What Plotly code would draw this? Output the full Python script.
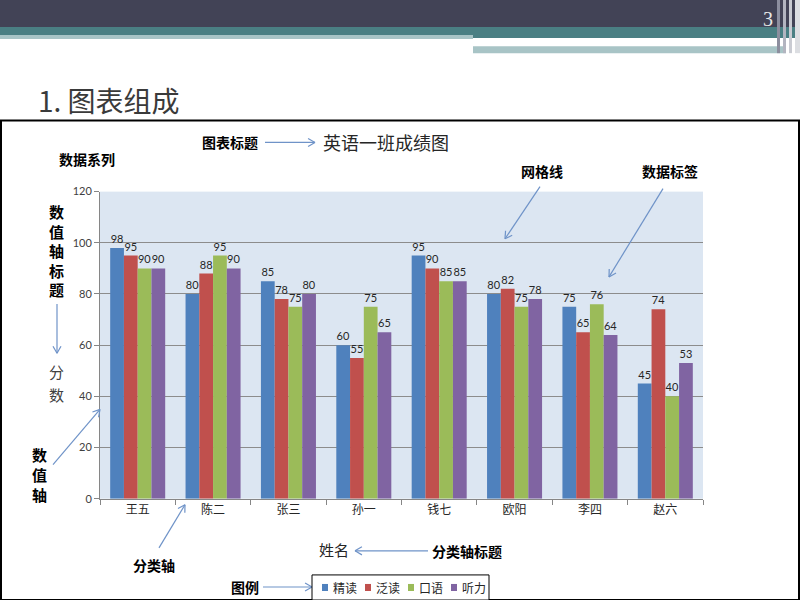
import plotly.graph_objects as go
import math

# ---------------- data ----------------
names = ["王五", "陈二", "张三", "孙一", "钱七", "欧阳", "李四", "赵六"]
series = ["精读", "泛读", "口语", "听力"]
jingdu = [98, 80, 85, 60, 95, 80, 75, 45]
fandu = [95, 88, 78, 55, 90, 82, 65, 74]
kouyu = [90, 95, 75, 75, 85, 75, 76, 40]
tingli = [90, 90, 80, 65, 85, 78, 64, 53]
colors = ["#4f81bd", "#c0504d", "#9bbb59", "#8064a2"]
y_ticks = [0, 20, 40, 60, 80, 100, 120]

W, H = 800, 600
CJK = "Noto Sans CJK SC"
NUM = "Lato, Noto Sans CJK SC"
# empirical vertical calibration of the rendered page
Y_OFF, Y_SCALE = 7.0, 0.975


def px(x):
    return x / W


def py(y):
    return 1 - ((y - Y_OFF) / Y_SCALE) / H


fig = go.Figure()
for name, vals, col in zip(series, [jingdu, fandu, kouyu, tingli], colors):
    fig.add_trace(go.Bar(
        x=names, y=vals, name=name, marker=dict(color=col, line=dict(width=0)),
        text=vals, textposition="outside", constraintext="none",
        textfont=dict(family=NUM, size=11, color="#262626"),
        cliponaxis=False, showlegend=False,
    ))

shapes = []
annotations = []


def rect(x0, y0, x1, y1, fill=None, line=None, lw=0):
    shapes.append(dict(type="rect", xref="paper", yref="paper",
                       x0=px(x0), x1=px(x1), y0=py(y1), y1=py(y0),
                       fillcolor=fill if fill else "rgba(0,0,0,0)",
                       line=dict(color=line if line else "rgba(0,0,0,0)", width=lw)))


def seg(x0, y0, x1, y1, color, w=1):
    shapes.append(dict(type="line", xref="paper", yref="paper",
                       x0=px(x0), y0=py(y0), x1=px(x1), y1=py(y1),
                       line=dict(color=color, width=w)))


def arrow(x0, y0, x1, y1, color="#6f93c8"):
    seg(x0, y0, x1, y1, color, 1.2)
    ang = math.atan2(y1 - y0, x1 - x0)
    L = 8
    for d in (math.radians(150), math.radians(-150)):
        seg(x1, y1, x1 + L * math.cos(ang + d), y1 + L * math.sin(ang + d), color, 1.2)


def text(x, y, s, size=14, bold=False, color="#000000", xanchor="center", family=CJK):
    annotations.append(dict(xref="paper", yref="paper", x=px(x), y=py(y),
                            text=f"<b>{s}</b>" if bold else s, showarrow=False,
                            xanchor=xanchor, yanchor="middle",
                            font=dict(family=family, size=size, color=color)))


# ---------------- slide header ----------------
rect(0, -2, 800, 27, fill="#424356")
rect(0, 27, 800, 35, fill="#4a7f83")
rect(0, 35, 473, 39, fill="#a8c4c6")
rect(473, 35, 800, 38, fill="#4a7f83")
rect(473, 43, 740, 45, fill="#ffffff")
rect(473, 46, 786, 53, fill="#a8c4c6")
rect(777, -2, 780, 53, fill="#8c8e9e")
rect(783, -2, 786, 53, fill="#b3b5c0")
rect(789, -2, 792, 53, fill="#c9cbd2")
rect(795, -2, 800, 53, fill="#dcdee2")
text(768, 19, "3", size=20, color="#e8e8e8", family="Liberation Serif")

# slide title
text(36, 100, "1. 图表组成", size=28, color="#3a3a3a", xanchor="left")

# chart frame
rect(1, 120, 799, 598, line="#000000", lw=2)

# ---------------- callouts ----------------
text(230, 142, "图表标题", size=14, bold=True)
arrow(265, 142, 315, 142)
text(386, 142, "英语一班成绩图", size=18, color="#262626")
text(87, 158, "数据系列", size=14, bold=True)
text(542, 170, "网格线", size=14, bold=True)
text(670, 170, "数据标签", size=14, bold=True)
arrow(540, 186, 505, 238)
arrow(663, 188, 609, 276)

for i, ch in enumerate("数值轴标题"):
    text(57, 211 + i * 19.5, ch, size=15, bold=True)
arrow(57, 303, 57, 352)
for i, ch in enumerate("分数"):
    text(57, 370 + i * 23, ch, size=15, color="#404040")
for i, ch in enumerate("数值轴"):
    text(39, 453 + i * 20, ch, size=15, bold=True)
arrow(53, 463, 100, 408)

text(154, 563, "分类轴", size=14, bold=True)
arrow(159, 546, 185, 503)

text(334, 548, "姓名", size=15, color="#262626")
arrow(428, 549, 355, 549)
text(467, 549, "分类轴标题", size=14, bold=True)

text(245, 585, "图例", size=14, bold=True)
arrow(263, 585, 312, 585)

# manual legend
rect(312, 573, 489, 598, fill="#ffffff", line="#000000", lw=1)
for i, (nm, col) in enumerate(zip(series, colors)):
    x0 = 322 + i * 43
    rect(x0, 582, x0 + 6, 589, fill=col)
    text(x0 + 9, 586, nm, size=12, color="#262626", xanchor="left")

fig.update_layout(
    width=W, height=H, margin=dict(l=0, r=0, t=0, b=0),
    paper_bgcolor="#ffffff", plot_bgcolor="#dce6f2",
    barmode="group", bargap=0.27, bargroupgap=0,
    shapes=shapes, annotations=annotations, showlegend=False,
    xaxis=dict(domain=[px(100), px(703)], type="category",
               showline=True, linecolor="#868686", linewidth=1,
               ticks="outside", tickson="boundaries", ticklen=5, tickcolor="#868686",
               tickfont=dict(family=CJK, size=12, color="#262626"),
               showgrid=False),
    yaxis=dict(domain=[py(497), py(191)], range=[0, 120], tickvals=y_ticks,
               showline=True, linecolor="#868686", linewidth=1,
               ticks="outside", ticklen=5, tickcolor="#868686",
               gridcolor="#8c8c8c", gridwidth=1, zeroline=False,
               tickfont=dict(family=NUM, size=11, color="#404040")),
)

fig.write_html("out.html")
